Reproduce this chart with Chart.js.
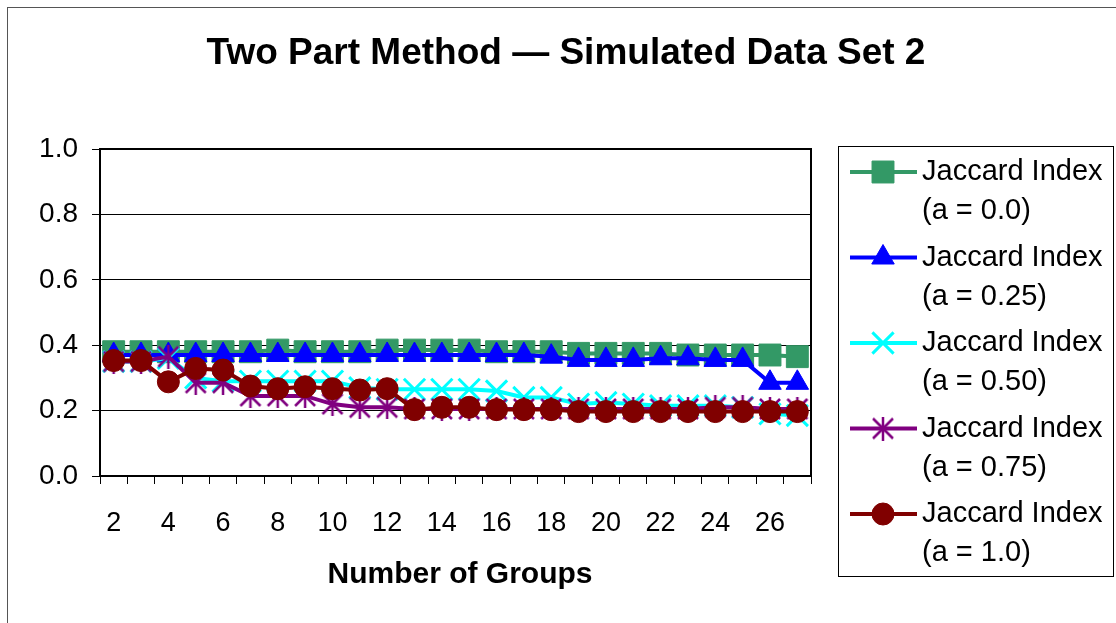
<!DOCTYPE html>
<html>
<head>
<meta charset="utf-8">
<script src="https://cdn.jsdelivr.net/npm/chart.js@4/dist/chart.umd.min.js"></script>
<style>
  body { margin: 0; background: #fff; }
  canvas { display: block; }
</style>
</head>
<body>
<canvas id="jaccardChart" width="1116" height="623"></canvas>
<script>
// Number of groups on the x axis
const groups = ["2", "3", "4", "5", "6", "7", "8", "9", "10", "11", "12", "13", "14",
    "15", "16", "17", "18", "19", "20", "21", "22", "23", "24", "25", "26", "27"];

// Jaccard index for each value of a
const jaccardA00 = [0.38, 0.38, 0.38, 0.38, 0.38, 0.38, 0.385, 0.38, 0.38, 0.38, 0.385, 0.385, 0.385,
    0.385, 0.38, 0.38, 0.38, 0.375, 0.375, 0.375, 0.375, 0.37, 0.37, 0.37, 0.37, 0.365, 0.375];
const jaccardA025 = [0.37, 0.37, 0.37, 0.37, 0.37, 0.37, 0.37, 0.37, 0.37, 0.37, 0.37, 0.37, 0.37,
    0.37, 0.37, 0.37, 0.365, 0.355, 0.355, 0.355, 0.36, 0.36, 0.355, 0.355, 0.285, 0.285];
const jaccardA050 = [0.35, 0.35, 0.36, 0.30, 0.29, 0.29, 0.29, 0.29, 0.29, 0.27, 0.265, 0.265, 0.265,
    0.265, 0.26, 0.24, 0.24, 0.22, 0.225, 0.22, 0.215, 0.215, 0.215, 0.21, 0.19, 0.185];
const jaccardA075 = [0.35, 0.35, 0.365, 0.285, 0.285, 0.245, 0.245, 0.245, 0.22, 0.21, 0.21, 0.205, 0.205,
    0.205, 0.205, 0.205, 0.205, 0.205, 0.205, 0.205, 0.205, 0.205, 0.21, 0.21, 0.205, 0.205];
const jaccardA10 = [0.353, 0.353, 0.288, 0.329, 0.324, 0.275, 0.267, 0.273, 0.267, 0.263, 0.267, 0.203, 0.21,
    0.21, 0.203, 0.203, 0.203, 0.197, 0.197, 0.197, 0.197, 0.197, 0.197, 0.197, 0.197, 0.197];

// y axis ticks
const yTicks = [0, 0.2, 0.4, 0.6, 0.8, 1.0];

const seriesNames = [
    ["Jaccard Index", "(a = 0.0)"],
    ["Jaccard Index", "(a = 0.25)"],
    ["Jaccard Index", "(a = 0.50)"],
    ["Jaccard Index", "(a = 0.75)"],
    ["Jaccard Index", "(a = 1.0)"]
];

// Excel style asterisk marker (X with a vertical bar)
function makeAsterisk(size, color) {
    const c = document.createElement("canvas");
    c.width = size;
    c.height = size;
    const g = c.getContext("2d");
    g.strokeStyle = color;
    g.lineWidth = 2.5;
    const m = 2;
    g.beginPath();
    g.moveTo(m, m); g.lineTo(size - m, size - m);
    g.moveTo(size - m, m); g.lineTo(m, size - m);
    g.moveTo(size / 2, 0); g.lineTo(size / 2, size);
    g.stroke();
    return c;
}

const asterisk = makeAsterisk(24, "#800080");

function series(label, data, color, style, radius, order, bw) {
    return {
        label: label,
        data: data,
        borderColor: color,
        backgroundColor: color,
        borderWidth: 4,
        pointStyle: style,
        pointRadius: radius,
        pointHoverRadius: radius,
        pointBackgroundColor: color,
        pointBorderColor: color,
        pointBorderWidth: bw,
        tension: 0,
        order: order
    };
}

const datasets = [
    series(seriesNames[0], jaccardA00, "#339966", "rect", 15.5, 5, 1),
    series(seriesNames[1], jaccardA025, "#0000FF", "triangle", 13, 4, 1),
    series(seriesNames[2], jaccardA050, "#00FFFF", "crossRot", 15, 3, 3),
    series(seriesNames[3], jaccardA075, "#800080", asterisk, 12, 2, 1),
    series(seriesNames[4], jaccardA10, "#800000", "circle", 11, 1, 1)
];

const FONT = "Arial, 'Liberation Sans', sans-serif";

const decor = {
    id: "decor",
    beforeDraw(chart) {
        const ctx = chart.ctx;
        ctx.save();
        ctx.fillStyle = "#fff";
        ctx.fillRect(0, 0, chart.width, chart.height);
        // outer chart border
        ctx.strokeStyle = "#555";
        ctx.lineWidth = 1;
        ctx.strokeRect(7.5, 7.5, 1200, 700);
        ctx.restore();
    },
    beforeDatasetsDraw(chart) {
        const ctx = chart.ctx, a = chart.chartArea;
        ctx.save();
        ctx.strokeStyle = "#000";
        ctx.lineWidth = 2;
        ctx.strokeRect(a.left, a.top, a.right - a.left, a.bottom - a.top);
        ctx.restore();
    },
    afterDraw(chart) {
        const ctx = chart.ctx;
        ctx.save();
        ctx.fillStyle = "#000";
        ctx.textAlign = "center";
        ctx.textBaseline = "middle";

        // title
        ctx.font = "bold 37px " + FONT;
        ctx.fillText("Two Part Method \u2014 Simulated Data Set 2", 566, 54);

        // x axis title
        ctx.font = "bold 30px " + FONT;
        ctx.fillText("Number of Groups", 460, 575);

        // legend
        ctx.strokeStyle = "#000";
        ctx.lineWidth = 1;
        ctx.strokeRect(838.5, 146.5, 275, 430);
        ctx.textAlign = "left";
        ctx.font = "29px " + FONT;
        chart.data.datasets.forEach((ds, i) => {
            const y = 172 + i * 85.5;
            ctx.strokeStyle = ds.borderColor;
            ctx.lineWidth = 4;
            ctx.beginPath();
            ctx.moveTo(850, y);
            ctx.lineTo(917, y);
            ctx.stroke();
            ctx.fillStyle = ds.backgroundColor;
            ctx.lineWidth = ds.pointBorderWidth;
            Chart.helpers.drawPoint(ctx, {
                pointStyle: ds.pointStyle,
                radius: ds.pointRadius,
                borderWidth: ds.pointBorderWidth,
                rotation: 0
            }, 883, y);
            ctx.fillStyle = "#000";
            ctx.fillText(ds.label[0], 922, y);
            ctx.fillText(ds.label[1], 922, y + 39);
        });
        ctx.restore();
    }
};

new Chart(document.getElementById("jaccardChart"), {
    type: "line",
    data: {
        labels: groups,
        datasets: datasets
    },
    options: {
        responsive: false,
        animation: false,
        layout: {
            padding: { top: 149, right: 305, left: 0, bottom: 0 }
        },
        plugins: {
            legend: { display: false },
            title: { display: false },
            tooltip: { enabled: false }
        },
        scales: {
            x: {
                offset: true,
                afterFit: (scale) => { scale.height = 147; },
                grid: {
                    offset: true,
                    drawOnChartArea: false,
                    color: "#000",
                    tickLength: 8,
                    tickWidth: 1
                },
                border: { color: "#000", width: 2 },
                ticks: {
                    autoSkip: false,
                    maxRotation: 0,
                    padding: 23,
                    color: "#000",
                    font: { family: FONT, size: 27 },
                    callback: (value, index) => index % 2 === 0 ? groups[index] : ""
                }
            },
            y: {
                min: 0,
                max: 1,
                afterFit: (scale) => { scale.width = 100; },
                afterBuildTicks: (scale) => {
                    scale.ticks = yTicks.map(v => ({ value: v }));
                },
                grid: {
                    color: "#000",
                    lineWidth: 1,
                    tickLength: 8
                },
                border: { color: "#000", width: 2 },
                ticks: {
                    padding: 14,
                    color: "#000",
                    font: { family: FONT, size: 28 },
                    callback: (value) => value.toFixed(1)
                }
            }
        }
    },
    plugins: [decor]
});
</script>
</body>
</html>
